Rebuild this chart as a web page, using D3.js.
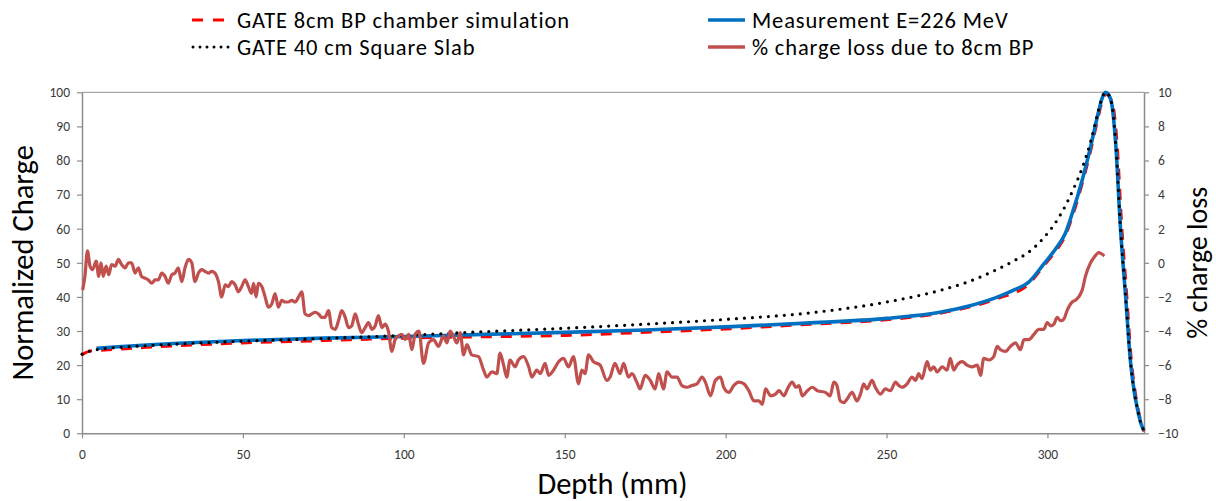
<!DOCTYPE html>
<html>
<head>
<meta charset="utf-8">
<script src="https://cdn.jsdelivr.net/npm/d3@7"></script>
<style>
  html, body { margin: 0; padding: 0; background: #fff; }
  svg { display: block; }
  text { font-family: Carlito, Lato, "Open Sans", sans-serif; }
</style>
</head>
<body>
<svg id="chart" width="1216" height="501"></svg>
<script>
// ---- Depth-charge data (depth in mm) ----
const gate8Depth  = [0, 1, 2.5, 5, 10, 20, 30, 50, 75, 100, 125, 150, 175, 200, 225, 250, 267, 284, 294, 299, 303, 305.5, 307.7, 310.8, 313.4, 315.8, 317, 318.2, 319.3, 320.5, 321.7, 323, 324.6, 326, 327.2, 328.3, 329.3, 330];
const gate8Charge = [23.0, 23.6, 24.1, 24.3, 24.6, 25.2, 25.7, 26.5, 27.2, 27.9, 28.3, 28.7, 29.6, 30.6, 31.9, 33.3, 35.3, 39.4, 43.6, 49.3, 54.0, 57.8, 63.5, 73.2, 82.8, 92.8, 97.4, 99.4, 98.6, 95.5, 84, 62, 41, 22, 12.5, 6.5, 2.5, 0.5];

const measDepth  = [4.5, 10, 20, 30, 50, 75, 100, 125, 150, 175, 200, 225, 250, 267, 275, 284, 290, 294, 299, 303, 305.5, 307.7, 310.8, 313.4, 315.8, 317, 318, 319, 320, 321.2, 322.7, 324.3, 325.8, 327, 328, 329, 330];
const measCharge = [24.9, 25.3, 25.9, 26.4, 27.2, 27.9, 28.4, 29.0, 29.6, 30.3, 31.2, 32.3, 33.7, 35.6, 37.2, 39.8, 42.2, 44.2, 49.8, 54.7, 58.5, 64.5, 74.3, 84.0, 94.0, 98.3, 100, 99.3, 96.5, 85, 60, 40, 21, 12, 7, 3, 0.8];

const slabDepth  = [0, 2, 5, 10, 20, 30, 50, 75, 100, 125, 150, 175, 200, 225, 250, 267, 275, 284, 290, 294, 299, 303, 306, 308, 310.8, 313.4, 315.8, 317, 318, 319, 320, 321.2, 322.7, 324.3, 325.8, 327, 328, 329, 330];
const slabCharge = [23.2, 24.0, 24.6, 25.1, 25.7, 26.2, 27.0, 27.8, 28.7, 29.8, 30.8, 32.0, 33.4, 35.2, 38.5, 42.0, 44.3, 47.9, 50.8, 53.0, 57.5, 62.5, 67.5, 71.5, 77.8, 85.5, 94.5, 98.5, 100, 99.3, 96.5, 85, 60, 40, 21, 12, 7, 3, 0.8];

// ---- % charge loss due to the 8 cm BP chamber (secondary axis) ----
const lossDepth = [
  0.2, 0.9, 1.7, 2.5, 3.3, 4.4, 5.2, 5.9, 6.6, 7.5, 8.3, 9.2, 10.3, 11.3, 12.3, 13.4, 14.4, 15.4, 16.5, 17.5,
  18.5, 19.6, 20.6, 21.7, 22.7, 23.7, 24.8, 25.8, 26.8, 27.9, 28.9, 29.9, 31.0, 32.0, 33.1, 34.1, 35.1, 36.2, 37.2, 38.2,
  39.3, 40.3, 41.3, 42.4, 43.4, 44.5, 45.5, 46.5, 47.6, 48.6, 49.6, 50.7, 51.7, 52.7, 53.3, 54.1, 54.8, 55.9, 56.9, 57.9,
  59.0, 60.0, 61.0, 62.1, 63.1, 64.1, 65.2, 66.2, 67.3, 68.3, 69.3, 70.4, 71.4, 72.4, 73.5, 74.5, 75.5, 76.6, 77.6, 78.7,
  79.7, 80.7, 81.8, 82.8, 83.8, 84.9, 85.9, 86.9, 88.0, 89.0, 90.1, 91.1, 92.1, 93.2, 94.2, 95.2, 96.3, 97.3, 98.3, 99.4,
  100.4, 101.5, 102.5, 103.5, 104.7, 106.1, 107.7, 109.2, 110.8, 112.3, 113.4, 114.4, 115.4, 116.5, 117.5, 118.6, 119.6, 121.1, 123.2, 124.8,
  125.8, 127.4, 128.9, 129.9, 131.0, 132.0, 133.0, 134.6, 135.6, 137.2, 138.8, 139.8, 141.3, 142.4, 143.9, 145.0, 146.5, 148.1, 149.6, 151.2,
  152.7, 154.3, 155.3, 156.3, 157.4, 158.9, 161.0, 163.1, 164.1, 165.6, 167.2, 168.3, 169.8, 170.9, 172.4, 173.4, 175.0, 176.6, 178.1, 179.2,
  180.7, 181.8, 183.3, 184.9, 186.4, 188.0, 189.5, 191.1, 192.7, 193.7, 195.3, 196.8, 198.4, 199.4, 201.0, 202.5, 204.1, 205.7, 207.2, 208.8,
  210.3, 211.4, 212.4, 214.0, 215.5, 216.6, 218.1, 219.2, 220.7, 221.8, 222.8, 223.8, 225.4, 226.9, 228.5, 231.0, 232.5, 233.6, 234.6, 235.6,
  236.7, 237.7, 239.3, 240.8, 241.9, 242.9, 243.9, 245.5, 246.5, 248.1, 249.6, 251.2, 252.8, 253.8, 254.8, 256.4, 257.9, 259.0, 260.0, 261.0,
  262.6, 263.6, 264.7, 265.7, 267.3, 268.8, 269.8, 270.9, 271.9, 273.5, 275.0, 276.6, 278.2, 279.2, 280.2, 281.8, 283.3, 284.4, 285.4, 287.0,
  288.5, 290.1, 291.6, 292.7, 294.2, 295.8, 297.3, 298.9, 299.9, 301.0, 302.0, 303.0, 304.1, 305.1, 306.1, 307.7, 308.7, 309.7, 310.8, 311.8,
  313.4, 314.4, 316.0, 317.0, 317.7
];
const lossPct = [
  -1.6, -0.8, 0.7, -0.2, -0.4, 0.1, -0.8, 0.0, -0.8, -0.2, -0.7, -0.1, -0.2, 0.2, -0.1, -0.3, 0.0, 0.0, -0.6, -0.3,
  -0.8, -0.9, -1.0, -1.2, -1.0, -1.0, -0.6, -0.8, -1.2, -0.7, -0.6, -0.3, -1.1, -0.3, 0.2, 0.0, -1.1, -0.6, -0.4, -0.5,
  -0.6, -0.5, -0.6, -1.1, -2.0, -1.3, -1.4, -1.1, -1.3, -1.7, -1.4, -1.0, -1.4, -1.8, -1.2, -2.0, -1.2, -1.4, -2.0, -2.6,
  -2.4, -1.8, -2.6, -2.2, -2.3, -2.3, -2.2, -2.3, -2.0, -1.7, -3.0, -3.1, -3.0, -2.9, -3.0, -3.2, -3.2, -2.8, -3.8, -3.9,
  -3.4, -2.8, -3.2, -3.8, -3.7, -3.0, -3.6, -4.1, -3.8, -3.5, -3.9, -3.7, -3.1, -3.8, -3.6, -4.0, -5.2, -4.5, -4.3, -4.2,
  -4.5, -4.2, -5.1, -4.2, -4.0, -5.9, -4.7, -4.5, -4.9, -4.3, -4.7, -4.0, -4.3, -4.7, -4.1, -5.4, -4.8, -5.4, -5.5, -6.3,
  -6.7, -6.4, -6.5, -5.3, -6.0, -6.7, -5.7, -6.1, -5.7, -5.5, -6.1, -6.7, -6.3, -6.5, -5.9, -6.6, -6.3, -5.8, -5.6, -6.1,
  -5.5, -7.1, -6.3, -6.5, -5.4, -5.8, -6.0, -6.9, -6.7, -5.9, -6.5, -5.9, -6.7, -6.5, -7.0, -7.4, -6.6, -6.9, -7.4, -6.5,
  -7.4, -6.4, -6.7, -6.7, -7.2, -7.3, -7.2, -7.1, -6.7, -7.0, -7.8, -6.9, -6.7, -7.3, -7.6, -7.2, -7.0, -7.1, -7.5, -8.1,
  -8.1, -8.3, -7.4, -7.8, -7.7, -7.5, -7.8, -7.4, -7.0, -7.3, -7.2, -7.8, -7.5, -7.3, -7.5, -7.6, -7.8, -7.0, -7.2, -8.1,
  -8.2, -8.0, -7.6, -8.1, -7.7, -7.1, -7.4, -6.9, -7.3, -7.7, -7.4, -7.5, -7.0, -7.2, -7.3, -7.1, -6.7, -6.9, -6.5, -6.8,
  -5.8, -6.3, -6.1, -6.4, -6.1, -6.3, -5.6, -6.3, -6.0, -5.8, -6.0, -6.1, -6.0, -6.6, -5.6, -5.7, -5.5, -4.9, -5.1, -5.2,
  -4.9, -4.7, -5.1, -4.5, -4.5, -4.2, -3.9, -3.9, -3.5, -3.7, -3.6, -3.2, -3.4, -3.3, -2.8, -2.3, -2.2, -2.0, -1.6, -0.8,
  0.0, 0.3, 0.6, 0.5, 0.4
];

// ---- Axis ticks ----
const depthTicks  = [0, 50, 100, 150, 200, 250, 300];
const chargeTicks = [0, 10, 20, 30, 40, 50, 60, 70, 80, 90, 100];
const lossTicks   = [-10, -8, -6, -4, -2, 0, 2, 4, 6, 8, 10];

// ---- Legend entries ----
const legendLabels = [
  "GATE 8cm BP chamber simulation",
  "GATE 40 cm Square Slab",
  "Measurement E=226 MeV",
  "% charge loss due to 8cm BP"
];

// ---- Layout ----
const plot = { left: 82, right: 1144, top: 92.3, bottom: 433.3 };
const axisColor = "#8c8c8c";
const tickTextColor = "#3a3a3a";

const svg = d3.select("#chart");

const x = d3.scaleLinear().domain([0, 330]).range([plot.left, plot.right]);
const yL = d3.scaleLinear().domain([0, 100]).range([plot.bottom, plot.top]);
const yR = d3.scaleLinear().domain([-10, 10]).range([plot.bottom, plot.top]);

// plot-area frame (top edge)
svg.append("line")
  .attr("x1", plot.left).attr("x2", plot.right)
  .attr("y1", plot.top).attr("y2", plot.top)
  .attr("stroke", "#a6a6a6").attr("stroke-width", 1.2);

function styleAxis(g) {
  g.select(".domain").attr("stroke", axisColor).attr("stroke-width", 1.5);
  g.selectAll(".tick line").attr("stroke", axisColor).attr("stroke-width", 1.2);
  g.selectAll(".tick text")
    .attr("fill", tickTextColor)
    .style("font-size", "13.5px")
    .style("font-family", "Carlito, Lato, 'Open Sans', sans-serif");
}

svg.append("g")
  .attr("transform", `translate(0,${plot.bottom})`)
  .call(d3.axisBottom(x).tickValues(depthTicks).tickSize(5).tickSizeOuter(0).tickPadding(11))
  .call(styleAxis);

svg.append("g")
  .attr("transform", `translate(${plot.left},0)`)
  .call(d3.axisLeft(yL).tickValues(chargeTicks).tickSize(5).tickSizeOuter(0).tickPadding(7))
  .call(styleAxis);

svg.append("g")
  .attr("transform", `translate(${plot.right},0)`)
  .call(d3.axisRight(yR).tickValues(lossTicks).tickSize(5).tickSizeOuter(0).tickPadding(9))
  .call(styleAxis);

// ---- Series ----
const lineL = d3.line().x(d => x(d[0])).y(d => yL(d[1])).curve(d3.curveMonotoneX);
const lineR = d3.line().x(d => x(d[0])).y(d => yR(d[1])).curve(d3.curveMonotoneX);

const zip = (a, b) => a.map((v, i) => [v, b[i]]);

// GATE 8cm BP chamber simulation (red dashed)
svg.append("path")
  .datum(zip(gate8Depth, gate8Charge))
  .attr("d", lineL)
  .attr("fill", "none")
  .attr("stroke", "#ff0000")
  .attr("stroke-width", 3)
  .attr("stroke-dasharray", "11,9");

// Measurement (blue)
svg.append("path")
  .datum(zip(measDepth, measCharge))
  .attr("d", lineL)
  .attr("fill", "none")
  .attr("stroke", "#0070c0")
  .attr("stroke-width", 3.6);

// GATE 40 cm square slab (black dotted)
svg.append("path")
  .datum(zip(slabDepth, slabCharge))
  .attr("d", lineL)
  .attr("fill", "none")
  .attr("stroke", "#000")
  .attr("stroke-width", 3.2)
  .attr("stroke-linecap", "round")
  .attr("stroke-dasharray", "0,8");

// % charge loss (secondary axis)
svg.append("path")
  .datum(zip(lossDepth, lossPct))
  .attr("d", lineR)
  .attr("fill", "none")
  .attr("stroke", "#c0504d")
  .attr("stroke-width", 3.2)
  .attr("stroke-linejoin", "round");

// ---- Axis titles ----
svg.append("text")
  .attr("transform", `translate(33,${(plot.top + plot.bottom) / 2}) rotate(-90)`)
  .attr("text-anchor", "middle")
  .style("font-size", "30.5px")
  .attr("fill", "#000")
  .text("Normalized Charge");

svg.append("text")
  .attr("transform", `translate(1207,${(plot.top + plot.bottom) / 2}) rotate(-90)`)
  .attr("text-anchor", "middle")
  .style("font-size", "28px")
  .attr("fill", "#000")
  .text("% charge loss");

svg.append("text")
  .attr("x", 612.5).attr("y", 494)
  .attr("text-anchor", "middle")
  .style("font-size", "30.5px")
  .attr("fill", "#000")
  .text("Depth (mm)");

// ---- Legend ----
const legendItems = [
  { label: legendLabels[0], sx: 192, tx: 237, sy: 20, by: 27.7, stroke: "#ff0000", w: 3.2, dash: "11,10", cap: "butt" },
  { label: legendLabels[1], sx: 193, tx: 237, sy: 47, by: 54.7, stroke: "#000", w: 3, dash: "0,7", cap: "round" },
  { label: legendLabels[2], sx: 708, tx: 752, sy: 20, by: 27.7, stroke: "#0070c0", w: 3.5, dash: null, cap: "butt" },
  { label: legendLabels[3], sx: 708, tx: 752, sy: 47, by: 54.7, stroke: "#c0504d", w: 3.5, dash: null, cap: "butt" }
];

const lg = svg.append("g");
legendItems.forEach(it => {
  lg.append("line")
    .attr("x1", it.sx).attr("x2", it.sx + 37)
    .attr("y1", it.sy).attr("y2", it.sy)
    .attr("stroke", it.stroke)
    .attr("stroke-width", it.w)
    .attr("stroke-linecap", it.cap)
    .attr("stroke-dasharray", it.dash);
  lg.append("text")
    .attr("x", it.tx).attr("y", it.by)
    .style("font-size", "22.5px")
    .style("letter-spacing", "0.85px")
    .attr("fill", "#000")
    .text(it.label);
});
</script>
</body>
</html>
